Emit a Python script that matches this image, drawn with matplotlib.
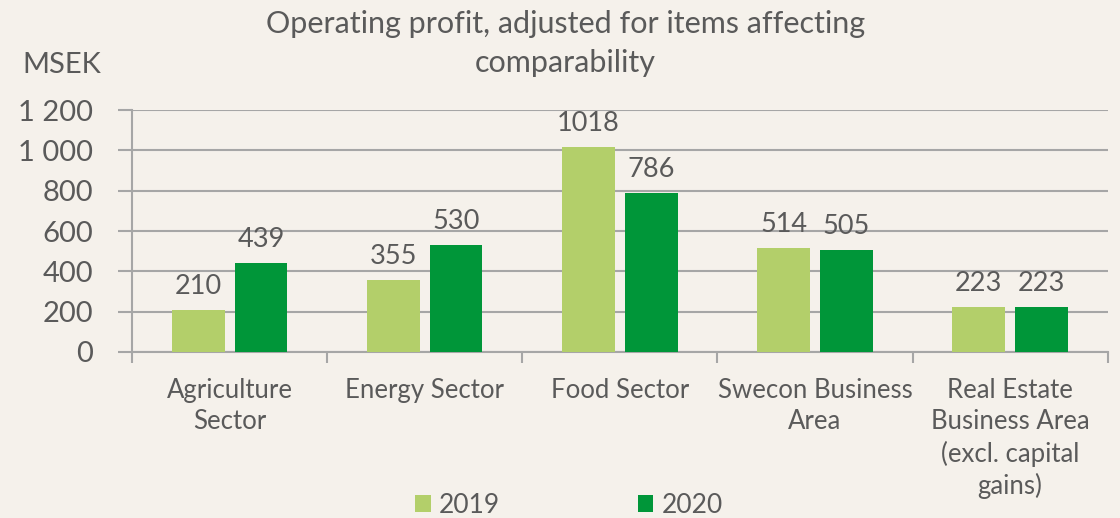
import numpy as np
import matplotlib.pyplot as plt
from matplotlib.ticker import FixedLocator, FuncFormatter

categories = ['Agriculture\nSector', 'Energy Sector', 'Food Sector',
              'Swecon Business\nArea', 'Real Estate\nBusiness Area\n(excl. capital\ngains)']
years = ['2019', '2020']
v2019 = [210, 355, 1018, 514, 223]
v2020 = [439, 530, 786, 505, 223]

bg = '#F5F1EB'
txt = '#5A5A5A'
grid_c = '#A6A6A6'
c19 = '#B3CF6A'
c20 = '#009639'

plt.rcParams['font.family'] = ['Lato', 'DejaVu Sans']

fig = plt.figure(figsize=(11.2, 5.18), dpi=100, facecolor=bg)
ax = fig.add_axes([0.1179, 0.3205, 0.8711, 0.4671])
ax.set_facecolor(bg)

x = np.arange(len(categories))
w = 0.27
b1 = ax.bar(x - 0.161, v2019, w, color=c19, label=years[0], zorder=3)
b2 = ax.bar(x + 0.161, v2020, w, color=c20, label=years[1], zorder=3)

for bars in (b1, b2):
    for r in bars:
        ax.annotate(f'{int(r.get_height())}', (r.get_x() + r.get_width() / 2, r.get_height()),
                    xytext=(0, 8), textcoords='offset points', ha='center', va='bottom',
                    fontsize=19.5, color=txt)

ax.set_xlim(-0.5, len(categories) - 0.5)
ax.set_ylim(0, 1200)
ax.set_yticks(range(0, 1201, 200))
ax.yaxis.set_major_formatter(FuncFormatter(lambda v, p: f'{int(v):,}'.replace(',', ' ')))
ax.grid(axis='y', color=grid_c, lw=1.5, zorder=0)
ax.tick_params(axis='y', length=10, width=1.5, color=grid_c, labelsize=21, labelcolor=txt, pad=18)

ax.set_xticks(x)
ax.set_xticklabels(categories, fontsize=18.5, color=txt, va='top', linespacing=1.3)
ax.xaxis.set_minor_locator(FixedLocator(np.arange(-0.5, len(categories), 1)))
ax.tick_params(axis='x', which='major', length=0, pad=19)
ax.tick_params(axis='x', which='minor', length=8, width=1.5, color=grid_c)

for s in ['top', 'right']:
    ax.spines[s].set_visible(False)
for s in ['left', 'bottom']:
    ax.spines[s].set_color(grid_c)
    ax.spines[s].set_linewidth(1.5)

fig.text(0.505, 0.916, 'Operating profit, adjusted for items affecting\ncomparability',
         ha='center', va='center', fontsize=22, color=txt, linespacing=1.5)
fig.text(0.020, 0.874, 'MSEK', ha='left', va='center', fontsize=21, color=txt)

leg = fig.legend(loc='center', bbox_to_anchor=(0.508, 0.025), ncol=2, frameon=False,
                 fontsize=19, labelcolor=txt, handlelength=0.6, handleheight=0.6,
                 handletextpad=0.3, columnspacing=5.2)

fig.savefig('out.png', dpi=100, facecolor=bg)
